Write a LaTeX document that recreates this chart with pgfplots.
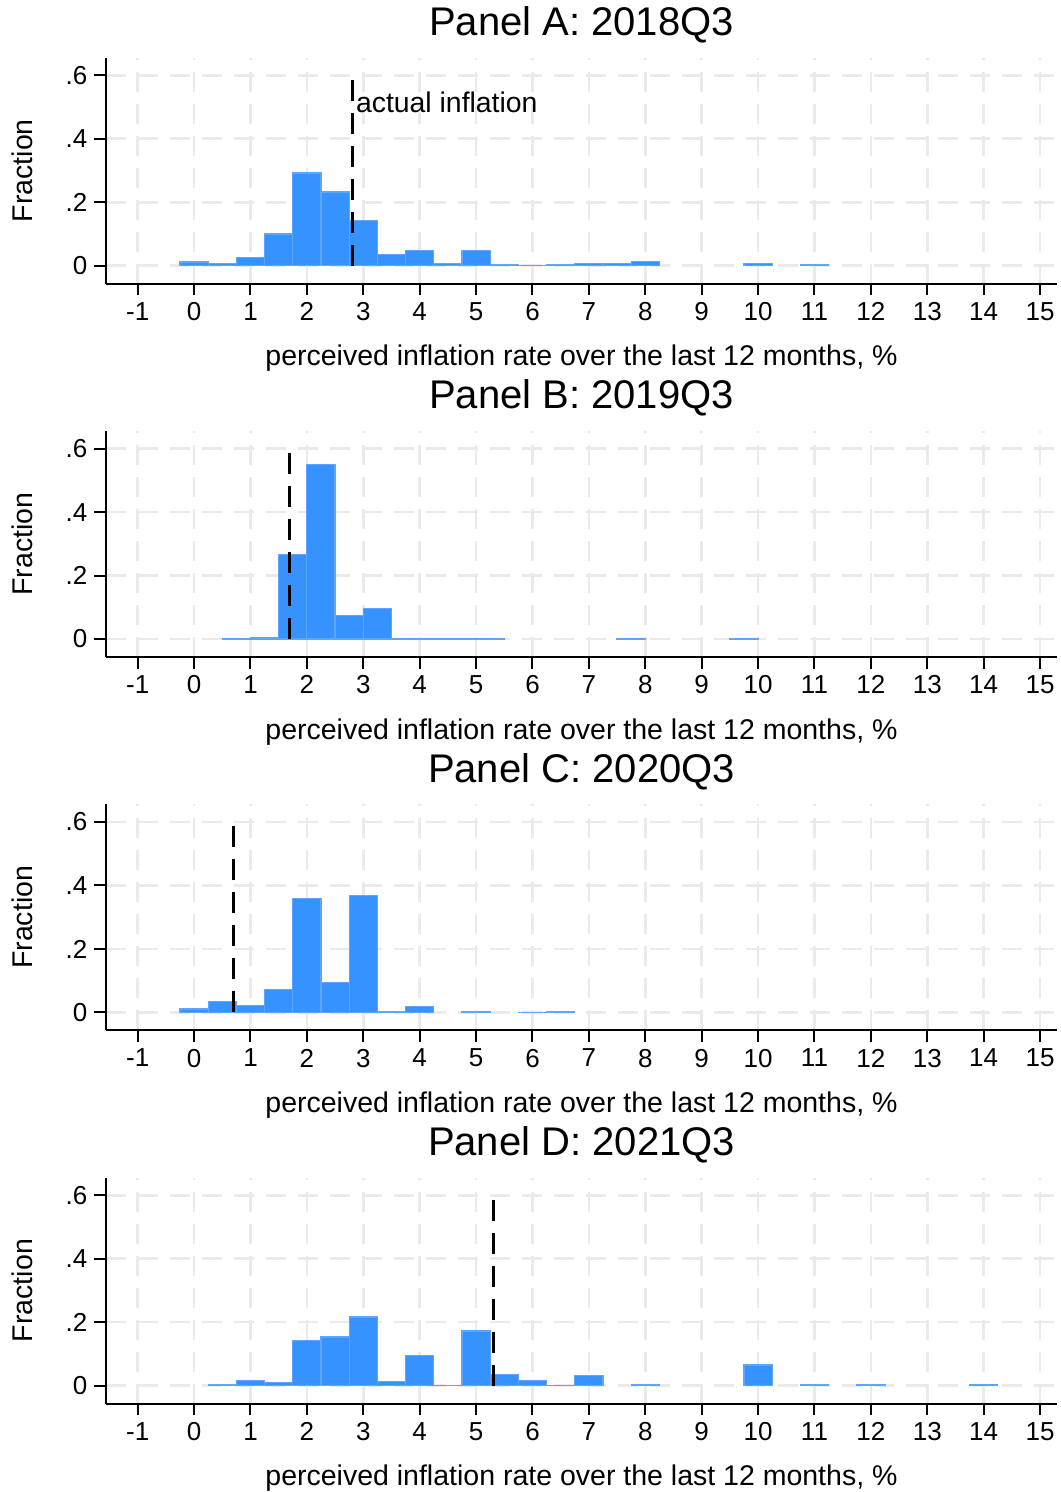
\documentclass[border=0pt]{standalone}
\usepackage{fontspec}
\setmainfont{Liberation Sans}
\usepackage{pgfplots}
\pgfplotsset{compat=1.18}
\definecolor{barblue}{RGB}{53,146,255}
\definecolor{baredge}{RGB}{92,166,255}
\definecolor{gridgray}{RGB}{234,234,234}
\pgfplotsset{
  panel/.style={
    scale only axis, width=475.5pt, height=113pt,
    anchor=south west,
    xmin=-1.562, xmax=15.30, ymin=-0.0567, ymax=0.6555,
    axis lines*=left,
    axis line style={line width=1pt, black},
    tick align=outside, major tick length=5.75pt,
    tick style={line width=1pt, black},
    xtick={-1,0,1,2,3,4,5,6,7,8,9,10,11,12,13,14,15},
    xticklabels={-1,0,1,2,3,4,5,6,7,8,9,10,11,12,13,14,15},
    ytick={0,0.2,0.4,0.6},
    yticklabels={0,.2,.4,.6},
    ticklabel style={font=\fontsize{13pt}{15pt}\selectfont},
    grid=major,
    major grid style={draw=gridgray, line width=1.3pt, dash pattern=on 10pt off 6pt},
    title style={font=\fontsize{20pt}{24pt}\selectfont, at={(axis description cs:0.5,1.045)}, anchor=base},
    xlabel={perceived inflation rate over the last 12 months, \%},
    ylabel={Fraction},
    label style={font=\fontsize{14.25pt}{17pt}\selectfont},
    xlabel style={at={(axis description cs:0.5,-0.363)}, anchor=base},
    ylabel style={at={(axis description cs:-0.0771,0.5)}, anchor=base},
  },
  hbar/.style={ybar, bar width=0.5, fill=barblue, draw=baredge, line width=0.6pt},
  infl/.style={black, line width=1.5pt, dash pattern=on 10.5pt off 6pt},
}
\begin{document}
\begin{tikzpicture}
\useasboundingbox (0,0) rectangle (530pt,-746pt);
% Panel A
\begin{axis}[panel, at={(53pt,-141.85pt)}, title={Panel A: 2018Q3}]
\addplot[hbar] coordinates {(0,0.012) (0.5,0.007) (1,0.026) (1.5,0.10) (2,0.292) (2.5,0.232) (3,0.143) (3.5,0.036) (4,0.048) (4.5,0.007) (5,0.048) (5.5,0.002) (6,0.001) (6.5,0.002) (7,0.007) (7.5,0.007) (8,0.014) (10,0.007) (11,0.003)};
\addplot[infl] coordinates {(2.8,0) (2.8,0.59)};
\node[anchor=base west, inner sep=0pt, xshift=1.8pt, font=\fontsize{14.2pt}{17pt}\selectfont] at (axis cs:2.8,0.482) {actual inflation};
\end{axis}
% Panel B
\begin{axis}[panel, at={(53pt,-328.5pt)}, title={Panel B: 2019Q3}]
\addplot[hbar] coordinates {(0.75,0.002) (1.25,0.005) (1.75,0.267) (2.25,0.549) (2.75,0.075) (3.25,0.097) (3.75,0.002) (4.25,0.002) (4.75,0.001) (5.25,0.002) (7.75,0.002) (9.75,0.002)};
\addplot[infl] coordinates {(1.7,0) (1.7,0.59)};
\end{axis}
% Panel C
\begin{axis}[panel, at={(53pt,-515.2pt)}, title={Panel C: 2020Q3}]
\addplot[hbar] coordinates {(0,0.011) (0.5,0.035) (1,0.021) (1.5,0.071) (2,0.36) (2.5,0.095) (3,0.369) (3.5,0.004) (4,0.019) (5,0.002) (6,0.001) (6.5,0.003)};
\addplot[infl] coordinates {(0.7,0) (0.7,0.59)};
\end{axis}
% Panel D
\begin{axis}[panel, at={(53pt,-701.8pt)}, title={Panel D: 2021Q3}]
\addplot[hbar] coordinates {(0.5,0.002) (1,0.017) (1.5,0.011) (2,0.141) (2.5,0.153) (3,0.216) (3.5,0.014) (4,0.096) (4.5,0.001) (5,0.172) (5.5,0.036) (6,0.017) (6.5,0.001) (7,0.033) (8,0.004) (10,0.065) (11,0.004) (12,0.002) (14,0.002)};
\addplot[infl] coordinates {(5.3,0) (5.3,0.59)};
\end{axis}
\end{tikzpicture}
\end{document}
